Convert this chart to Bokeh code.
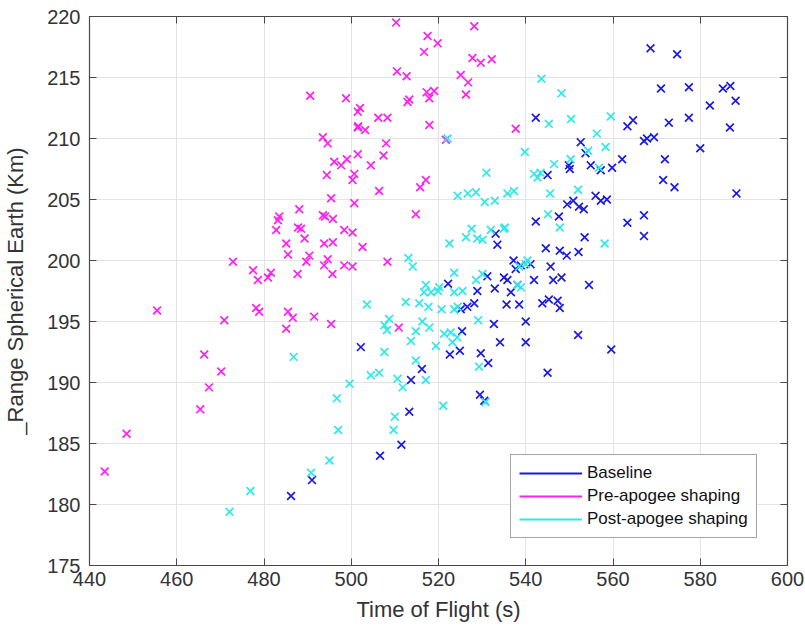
from bokeh.plotting import figure
from bokeh.models import LinearAxis, Legend, LegendItem, FixedTicker, ColumnDataSource
from bokeh.embed import file_html
from bokeh.resources import INLINE

# Baseline
base_tof = [486.2, 491.0, 502.2, 506.6, 511.5, 513.3, 513.7, 516.2, 522.2, 522.6, 524.9, 525.4, 525.1, 526.6,
            528.2, 528.9, 529.7, 529.5, 530.5, 531.2, 531.4, 532.7, 532.9, 533.1, 533.5, 534.1, 535.0, 535.8,
            535.6, 536.6, 537.2, 537.7, 538.1, 538.5, 538.9, 540.0, 540.0, 541.1, 541.9, 542.3, 542.3, 543.8,
            544.6, 545.0, 545.0, 545.3, 545.7, 546.3, 547.3, 547.6, 547.8, 547.8, 548.2, 549.4, 549.5, 549.9,
            550.1, 550.9, 552.0, 552.1, 552.2, 552.6, 553.3, 553.5, 553.7, 554.5, 554.9, 556.0, 557.2, 557.2,
            558.6, 559.6, 559.8, 562.1, 563.3, 563.3, 564.6, 567.1, 567.1, 567.1, 567.8, 568.6, 569.4, 571.0,
            571.5, 571.9, 572.8, 574.1, 574.7, 577.4, 577.4, 580.0, 582.2, 585.2, 586.8, 586.9, 588.1, 588.3]
base_rng = [180.7, 182.0, 192.9, 184.0, 184.9, 187.6, 190.2, 191.1, 198.1, 192.3, 192.6, 194.2, 196.0, 196.2,
            196.5, 197.5, 192.4, 189.0, 188.5, 198.7, 191.6, 194.8, 197.7, 202.2, 201.3, 193.3, 198.6, 198.4,
            196.4, 197.4, 200.0, 199.3, 198.0, 196.4, 199.6, 195.0, 193.3, 199.7, 198.4, 203.2, 211.7, 196.5,
            201.0, 190.8, 207.0, 196.8, 199.5, 198.4, 196.7, 203.6, 196.1, 200.8, 198.6, 200.4, 204.6, 207.8,
            207.5, 204.9, 193.9, 200.7, 204.4, 209.7, 204.2, 201.9, 208.8, 198.0, 207.8, 205.3, 207.4, 204.9,
            205.0, 192.7, 207.6, 208.3, 211.0, 203.1, 211.5, 203.7, 202.0, 209.8, 210.0, 217.4, 210.1, 214.1,
            206.6, 208.3, 211.3, 206.0, 216.9, 214.2, 211.7, 209.2, 212.7, 214.1, 210.9, 214.3, 213.1, 205.5]

# Pre-apogee shaping
pre_tof = [443.5, 448.5, 455.5, 465.4, 466.3, 467.4, 470.2, 470.9, 472.9, 477.5, 478.6, 478.2, 478.9, 480.9,
           481.6, 482.8, 483.5, 483.2, 485.1, 485.5, 485.5, 486.6, 485.1, 487.7, 488.1, 487.8, 488.5, 489.3,
           489.7, 490.4, 490.6, 491.5, 493.5, 494.6, 493.5, 494.0, 495.8, 493.8, 495.8, 494.6, 493.8, 495.7,
           495.4, 495.4, 494.4, 496.1, 497.7, 498.4, 498.4, 498.8, 499.0, 500.3, 500.3, 500.7, 500.7, 500.3,
           501.5, 501.5, 501.5, 502.0, 501.6, 503.2, 502.6, 504.5, 506.2, 508.3, 506.4, 507.4, 508.0, 508.3,
           510.3, 510.5, 510.9, 512.7, 512.9, 513.3, 514.8, 515.8, 516.7, 517.1, 517.3, 517.9, 517.9, 517.5,
           519.0, 519.8, 521.7, 525.1, 526.3, 526.8, 527.8, 528.2, 529.7, 532.2, 537.7]
pre_rng = [182.7, 185.8, 195.9, 187.8, 192.3, 189.6, 190.9, 195.1, 199.9, 199.2, 198.4, 196.1, 195.8, 198.6,
           199.0, 202.5, 203.6, 203.3, 201.4, 200.5, 195.8, 195.3, 194.4, 198.9, 204.2, 202.7, 202.6, 201.8,
           199.9, 200.4, 213.5, 195.4, 210.1, 209.6, 203.7, 203.6, 203.4, 201.4, 201.5, 200.1, 199.6, 198.9,
           205.1, 194.8, 207.0, 208.1, 207.8, 202.5, 199.6, 213.3, 208.3, 199.5, 202.3, 204.7, 207.1, 206.6,
           208.7, 210.9, 212.2, 212.5, 211.0, 210.7, 201.1, 207.8, 211.7, 211.7, 205.7, 208.6, 209.6, 199.9,
           219.5, 215.5, 194.5, 215.1, 213.0, 213.2, 203.8, 206.0, 217.1, 206.6, 213.8, 213.3, 211.1, 218.4,
           213.9, 217.8, 209.9, 215.2, 213.6, 214.6, 216.6, 219.2, 216.2, 216.5, 210.8]

# Post-apogee shaping
post_tof = [472.1, 476.9, 486.8, 490.8, 495.0, 496.7, 497.0, 499.6, 503.6, 504.5, 506.4, 507.6, 507.6, 508.7,
            508.2, 509.7, 510.0, 510.6, 511.8, 512.5, 513.1, 514.1, 513.7, 514.8, 514.8, 515.6, 516.3, 516.7,
            517.1, 517.1, 517.7, 517.9, 518.3, 519.4, 519.9, 520.2, 520.7, 521.3, 521.1, 522.1, 522.5, 522.8,
            523.2, 523.6, 523.6, 523.6, 524.3, 524.4, 524.4, 525.5, 526.3, 526.7, 527.6, 528.6, 528.6, 528.9,
            529.1, 529.3, 530.1, 530.1, 530.6, 530.8, 531.0, 532.0, 532.9, 535.0, 535.2, 535.8, 537.3, 538.1,
            538.5, 538.9, 539.8, 540.0, 540.4, 541.9, 542.7, 543.4, 543.6, 545.1, 545.3, 545.6, 546.5, 547.8,
            548.2, 550.3, 550.4, 552.0, 554.3, 556.3, 556.8, 558.1, 558.3, 559.5]
post_rng = [179.4, 181.1, 192.1, 182.6, 183.6, 188.7, 186.1, 189.9, 196.4, 190.6, 190.8, 192.5, 194.7, 195.2,
            194.3, 186.1, 187.2, 190.3, 189.6, 196.6, 200.2, 199.5, 193.4, 194.2, 191.8, 196.5, 195.0, 197.4,
            198.0, 190.2, 196.2, 194.5, 197.4, 193.0, 197.5, 197.8, 196.0, 194.0, 188.1, 210.0, 201.4, 194.1,
            193.3, 199.0, 196.0, 197.4, 193.7, 196.2, 205.3, 197.5, 201.9, 205.5, 202.6, 198.4, 205.6, 201.8,
            195.1, 191.3, 201.7, 198.9, 204.8, 188.4, 207.2, 202.5, 204.9, 202.6, 202.7, 205.5, 205.7, 198.0,
            199.5, 197.8, 208.9, 199.7, 200.0, 207.1, 206.8, 207.2, 214.9, 203.8, 211.2, 205.5, 207.9, 202.7,
            213.7, 208.3, 211.6, 205.8, 209.0, 210.4, 207.6, 201.4, 209.3, 211.8]

x_ticks = [440, 460, 480, 500, 520, 540, 560, 580, 600]
y_ticks = [175, 180, 185, 190, 195, 200, 205, 210, 215, 220]

series_names = ["Baseline", "Pre-apogee shaping", "Post-apogee shaping"]
series_colors = ["#1a1ae0", "#ff1ff0", "#2ee8ea"]

FONT = "Liberation Sans"
TXT = "#333333"
FRAME = "#4a4a4a"
NAN = float("nan")

p = figure(width=805, height=636, output_backend="svg", toolbar_location=None,
           x_range=(440, 600), y_range=(175, 220),
           min_border_left=88, min_border_right=18, min_border_top=16, min_border_bottom=71)
p.background_fill_color = "white"
p.border_fill_color = "white"
p.outline_line_color = FRAME
p.outline_line_width = 1.2

for ax in (p.xaxis[0], p.yaxis[0]):
    ax.major_tick_in = 7
    ax.major_tick_out = 0
    ax.minor_tick_in = 0
    ax.minor_tick_out = 0
    ax.axis_line_color = FRAME
    ax.major_tick_line_color = FRAME
    ax.major_label_text_font = FONT
    ax.major_label_text_font_size = "20px"
    ax.major_label_text_color = TXT
    ax.axis_label_text_font = FONT
    ax.axis_label_text_font_size = "22px"
    ax.axis_label_text_font_style = "normal"
    ax.axis_label_text_color = TXT

p.xaxis.ticker = FixedTicker(ticks=x_ticks)
p.yaxis.ticker = FixedTicker(ticks=y_ticks)
p.xaxis.axis_label = "Time of Flight (s)"
p.yaxis.axis_label = "_Range Spherical Earth (Km)"
p.xaxis.major_label_standoff = 6
p.yaxis.major_label_standoff = 9
p.xaxis.axis_label_standoff = 8
p.yaxis.axis_label_standoff = 16

for loc, ticks in (("above", x_ticks), ("right", y_ticks)):
    ax = LinearAxis(ticker=FixedTicker(ticks=ticks))
    ax.major_tick_in = 7
    ax.major_tick_out = 0
    ax.minor_tick_in = 0
    ax.minor_tick_out = 0
    ax.axis_line_color = FRAME
    ax.major_tick_line_color = FRAME
    ax.major_label_text_font_size = "1px"
    ax.major_label_text_alpha = 0
    ax.major_label_standoff = 0
    p.add_layout(ax, loc)

p.xgrid.grid_line_color = "#e4e4e4"
p.ygrid.grid_line_color = "#e4e4e4"
p.xgrid.grid_line_width = 1
p.ygrid.grid_line_width = 1

data = [(base_tof, base_rng), (pre_tof, pre_rng), (post_tof, post_rng)]
items = []
for (xs, ys), name, col in zip(data, series_names, series_colors):
    src = ColumnDataSource(dict(x=xs, y=ys))
    p.scatter("x", "y", source=src, marker="x", size=11, line_color=col, line_width=1.7)
    ln = p.line(x=[NAN], y=[NAN], line_color=col, line_width=1.8)
    items.append(LegendItem(label=name, renderers=[ln]))

legend = Legend(items=items, location=(421, 27))
legend.label_text_font = FONT
legend.label_text_font_size = "17px"
legend.label_text_color = "#111111"
legend.glyph_width = 63
legend.glyph_height = 20
legend.label_height = 20
legend.spacing = 3
legend.padding = 8
legend.margin = 0
legend.label_standoff = 5
legend.border_line_color = FRAME
legend.border_line_width = 1.2
legend.background_fill_color = "white"
legend.background_fill_alpha = 1
p.add_layout(legend, "center")

open("out.html", "w").write(file_html(p, INLINE))
